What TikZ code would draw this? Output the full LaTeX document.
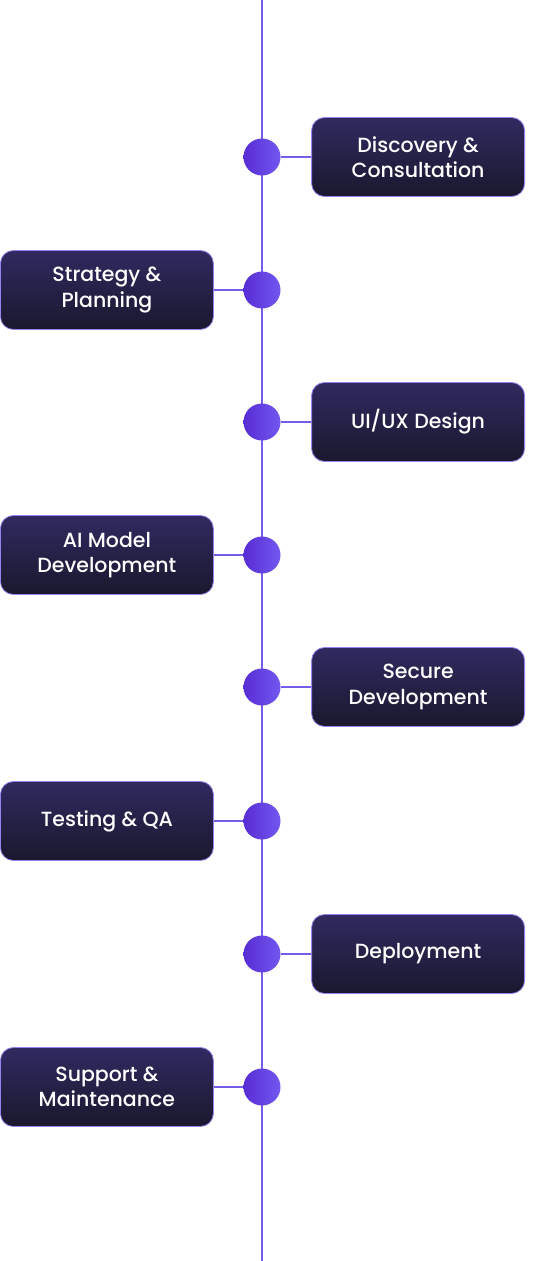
\documentclass[tikz,border=0pt]{standalone}
\usepackage{fontspec}
\setmainfont{Poppins}[UprightFont=* Medium]
\usepackage{tikz}
\usetikzlibrary{positioning}

\definecolor{boxtop}{RGB}{48,42,96}
\definecolor{boxbottom}{RGB}{26,24,46}
\definecolor{boxedge}{RGB}{150,130,240}
\definecolor{linecol}{RGB}{118,92,236}
\definecolor{dotleft}{RGB}{88,44,212}
\definecolor{dotright}{RGB}{114,88,240}

\begin{document}
\begin{tikzpicture}[
        x=1pt, y=1pt,
        stepbox/.style={rectangle, draw=boxedge, line width=0.8pt, top color=boxtop, bottom color=boxbottom, minimum width=213pt, minimum height=79pt, rounded corners=13pt, align=center, text=white, font=\fontsize{20.5}{25.5}\selectfont},
        dot/.style={circle, minimum size=37pt, inner sep=0pt, left color=dotleft, right color=dotright},
        line/.style={line width=1.6pt, draw=linecol}
    ]
    \useasboundingbox (0,0) rectangle (538,-1261);

    % Timeline
    \coordinate (top) at (262,0);
    \coordinate (bottom) at (262,-1261);
    \draw[line] (top) -- (bottom);

    % Dots
    \node[dot] (dot1) at (262,-157) {};
    \node[dot] (dot2) at (262,-290) {};
    \node[dot] (dot3) at (262,-422) {};
    \node[dot] (dot4) at (262,-555) {};
    \node[dot] (dot5) at (262,-687) {};
    \node[dot] (dot6) at (262,-821) {};
    \node[dot] (dot7) at (262,-954) {};
    \node[dot] (dot8) at (262,-1087) {};

    % Steps
    \node[stepbox, right=30.5pt of dot1] (discovery) {Discovery \&\\Consultation};
    \node[stepbox, left=29.5pt of dot2] (strategy) {Strategy \&\\Planning};
    \node[stepbox, right=30.5pt of dot3] (uiux) {UI/UX Design};
    \node[stepbox, left=29.5pt of dot4] (aimodel) {AI Model\\Development};
    \node[stepbox, right=30.5pt of dot5] (secure) {Secure\\Development};
    \node[stepbox, left=29.5pt of dot6] (testing) {Testing \& QA};
    \node[stepbox, right=30.5pt of dot7] (deploy) {Deployment};
    \node[stepbox, left=29.5pt of dot8] (support) {Support \&\\Maintenance};

    % Connections
    \draw[line] (dot1) -- (discovery);
    \draw[line] (dot2) -- (strategy);
    \draw[line] (dot3) -- (uiux);
    \draw[line] (dot4) -- (aimodel);
    \draw[line] (dot5) -- (secure);
    \draw[line] (dot6) -- (testing);
    \draw[line] (dot7) -- (deploy);
    \draw[line] (dot8) -- (support);

\end{tikzpicture}
\end{document}
